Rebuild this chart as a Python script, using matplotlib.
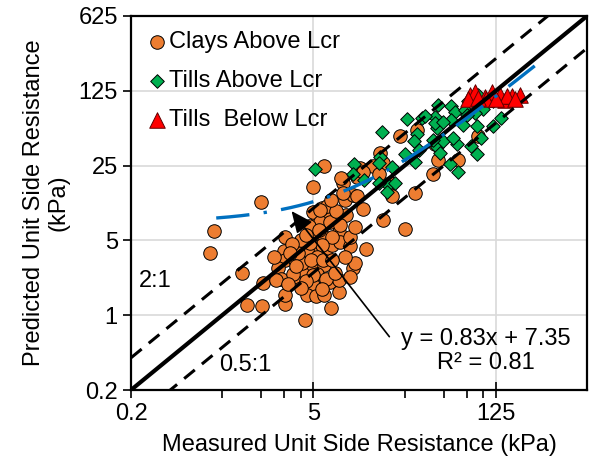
import numpy as np
import matplotlib
matplotlib.use('Agg')
import matplotlib.pyplot as plt
from matplotlib.ticker import NullLocator

plt.rcParams['font.family'] = ['Liberation Sans', 'DejaVu Sans']

# values (kPa): measured, predicted
clay_x = [6.0, 5.0, 2.0, 0.86, 0.81, 1.41, 2.05, 1.54, 2.03, 3.03, 3.03, 3.03, 2.97, 3.03, 2.7,
          2.8, 3.8, 3.6, 3.95, 4.2, 4.25, 5.0, 5.14, 5.0, 5.3, 5.0, 6.14, 5.6, 6.7, 6.0,
          6.14, 6.9, 6.0, 5.3, 5.0, 4.5, 5.2, 6.0, 6.7, 7.8, 7.8, 6.8, 4.3, 7.8, 8.0,
          9.5, 9.5, 10.1, 10.4, 12.6, 10.4, 12.0, 8.9, 8.7, 10.1, 8.4, 10.8, 8.2, 11.4, 14.3,
          17.2, 17.2, 25, 30, 20, 19.3, 41, 45, 64, 16.2, 8.4, 10.8, 6.9, 5.8, 4.5,
          4.1, 5.3, 4.7, 3.8, 8.7, 5.0, 9.5, 2.6, 3.5, 23, 31, 43, 91, 12, 16,
          4.6, 5.5, 4.0, 3.4, 4.4, 5.8, 6.4, 5.6, 3.3, 4.8, 5.9, 3.7, 4.4, 6.3, 5.8,
          7.3, 7.0, 4.0, 3.2, 2.5, 7.5, 6.8, 8.0]
clay_y = [25, 15.9, 11.5, 6.1, 3.85, 2.5, 2.0, 1.25, 1.23, 1.27, 1.54, 5.4, 4.0, 3.28, 2.75,
          2.2, 2.28, 3.28, 4.4, 3.4, 2.6, 2.94, 4.07, 5.6, 8.4, 9.2, 8.9, 7.5, 7.5, 5.4,
          3.8, 4.5, 2.94, 2.45, 1.91, 1.54, 1.5, 1.54, 2.05, 1.63, 2.13, 1.16, 0.9, 6.0, 4.85,
          4.4, 5.4, 2.75, 3.1, 4.2, 6.7, 9.9, 8.64, 11.9, 13.3, 17.2, 19.7, 19, 23.5, 24.8,
          26.5, 7.76, 6.35, 14, 13, 17.2, 21, 28.2, 28.2, 32.5, 13.8, 13, 5.4, 4.5, 4.07,
          3.1, 3.5, 4.7, 3.8, 3.5, 2.37, 2.28, 2.13, 2.45, 47, 54, 40, 47, 22, 21,
          6.8, 6.2, 5.0, 4.6, 5.6, 10, 10.5, 9.6, 3.8, 3.3, 3.3, 2.9, 2.1, 2.2, 1.75,
          2.5, 3.3, 1.8, 1.95, 3.5, 9.5, 12, 7.0]

till_above_x = [5.14, 10.2, 16.2, 16.7, 26, 34, 43, 45, 57, 61, 44, 31, 25, 15.8, 10.1,
                12.3, 18.8, 21, 30, 44, 47, 49, 63, 57, 70, 89, 64, 76, 91, 99,
                118, 137, 118, 89, 86, 73, 18.3, 15.8, 20, 36, 43, 49, 29.5, 32, 41,
                59, 75, 97, 81, 56]
till_above_y = [23, 26, 30, 51, 68, 69, 71, 92, 90, 79, 56, 49, 32, 26.5, 21,
                18.3, 16.5, 17.2, 27, 37, 33, 42, 40, 67, 60, 32, 22, 100, 115, 84,
                100, 69, 58, 58, 77, 83, 14.2, 17.2, 24, 72, 62, 64, 42, 35, 43,
                45, 74, 45, 38, 26]

till_below_x = [79, 87, 103, 116, 134, 147, 165, 193, 106, 76, 152, 175, 126, 91]
till_below_y = [114, 122, 110, 122, 114, 103, 112, 114, 105, 105, 112, 105, 105, 107]

# linear trend line reported on the chart
slope, intercept = 0.83, 7.35
trend_x = np.geomspace(0.9, 300, 200)

lims = np.array([0.2, 625])

fig = plt.figure(figsize=(5.91, 4.65), dpi=100)
ax = fig.add_axes([131 / 591, 75 / 465, 456 / 591, 374 / 465])

ax.scatter(clay_x, clay_y, s=95, marker='o', color='#ED7D31', edgecolors='black',
           linewidths=0.7, zorder=3, label='Clays Above Lcr')
ax.scatter(till_above_x, till_above_y, s=48, marker='D', color='#00B050', edgecolors='black',
           linewidths=0.7, zorder=4, label='Tills Above Lcr')
ax.scatter(till_below_x, till_below_y, s=125, marker='^', color='#FF0000', edgecolors='#600000',
           linewidths=0.7, zorder=5, label='Tills  Below Lcr')

# 1:1, 2:1 and 0.5:1 lines
ax.plot(lims, lims, color='black', lw=3, zorder=6, solid_capstyle='butt')
ax.plot(lims, 2 * lims, color='black', lw=2.2, dashes=(4.5, 3), zorder=6)
ax.plot(lims, 0.5 * lims, color='black', lw=2.2, dashes=(4.5, 3), zorder=6)

ax.plot(trend_x, slope * trend_x + intercept, color='#0070C0', lw=2.4,
        dashes=(10, 4.3, 1, 4.3), zorder=7)

ax.text(0.305, 2.08, '2:1', fontsize=17, ha='center', va='center')
ax.text(1.5, 0.34, '0.5:1', fontsize=17, ha='center', va='center')
ax.text(105, 0.46, 'y = 0.83x + 7.35\nR² = 0.81', fontsize=17, ha='center', va='center',
        linespacing=1.1)
ax.annotate('', xy=(3.4, 9.4), xytext=(19.1, 0.63),
            arrowprops=dict(arrowstyle='-|>,head_length=0.6,head_width=0.27', color='black',
                            lw=1.2, mutation_scale=22, shrinkA=0, shrinkB=0),
            zorder=8)

ax.set_xscale('log')
ax.set_yscale('log')
ax.set_xlim(lims)
ax.set_ylim(lims)

ax.set_xticks([0.2, 5, 125])
ax.set_xticklabels(['0.2', '5', '125'])
ax.set_xticks([1, 2, 3, 4, 25, 50, 75, 100], minor=True)
ax.set_xticklabels([], minor=True)
ax.set_yticks([0.2, 1, 5, 25, 125, 625])
ax.set_yticklabels(['0.2', '1', '5', '25', '125', '625'])
ax.yaxis.set_minor_locator(NullLocator())

ax.grid(True, which='major', color='#D9D9D9', lw=1.2, zorder=0)
ax.set_axisbelow(True)

for sp in ax.spines.values():
    sp.set_linewidth(1.6)
    sp.set_color('black')

ax.tick_params(axis='both', which='major', labelsize=17, direction='out', length=6, width=1.2)
ax.tick_params(axis='x', which='major', direction='inout', length=12)
ax.tick_params(axis='x', which='minor', direction='out', length=6, width=1.2)

ax.set_xlabel('Measured Unit Side Resistance (kPa)', fontsize=17, labelpad=6)
ax.set_ylabel('Predicted Unit Side Resistance\n(kPa)', fontsize=17, labelpad=6)

ax.legend(loc='upper left', frameon=False, fontsize=17, scatterpoints=1,
          handletextpad=0.05, handlelength=0.9, labelspacing=0.72, borderaxespad=0.25)

fig.savefig('out.png', dpi=100)
